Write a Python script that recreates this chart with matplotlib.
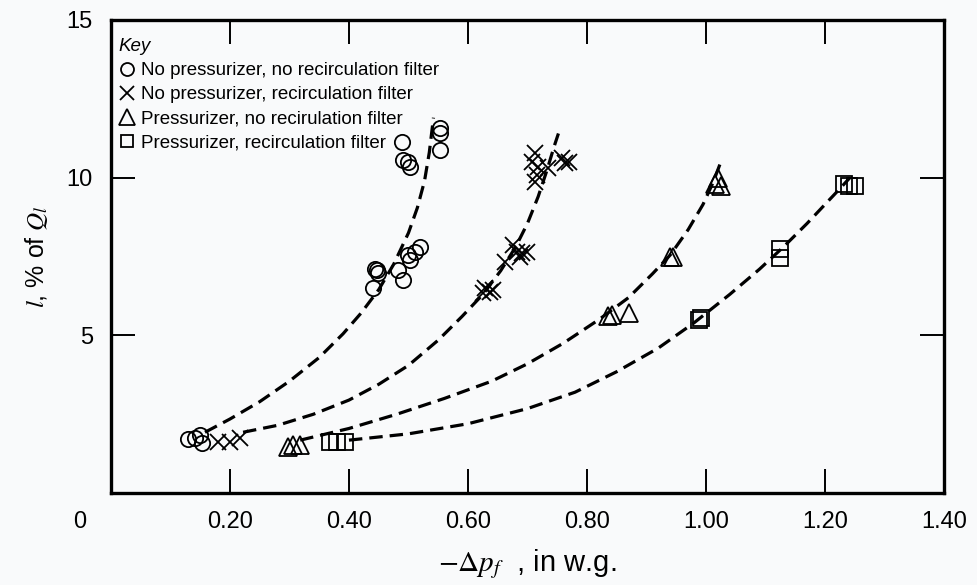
""" leakage vs filter pressure drop, four cabinet configurations """

import matplotlib
matplotlib.use('Agg')
import matplotlib.pyplot as plt

# measured points
circ_x = [0.130, 0.141, 0.150, 0.153, 0.440, 0.444, 0.447, 0.449, 0.482, 0.491,
          0.499, 0.502, 0.511, 0.519, 0.489, 0.491, 0.499, 0.502, 0.553, 0.553, 0.553]
circ_y = [1.71, 1.74, 1.84, 1.59, 6.50, 7.10, 7.07, 6.98, 7.07, 6.75,
          7.55, 7.39, 7.64, 7.80, 11.13, 10.56, 10.50, 10.34, 11.58, 11.42, 10.88]

cross_x = [0.180, 0.200, 0.217, 0.625, 0.629, 0.637, 0.642, 0.662, 0.676, 0.682,
           0.687, 0.690, 0.700, 0.708, 0.713, 0.713, 0.716, 0.718, 0.734, 0.758,
           0.763, 0.770]
cross_y = [1.62, 1.62, 1.74, 6.34, 6.50, 6.38, 6.44, 7.33, 7.87, 7.64,
           7.50, 7.60, 7.64, 10.50, 10.78, 9.87, 10.09, 10.34, 10.30, 10.62,
           10.46, 10.50]

tri_x = [0.297, 0.306, 0.318, 0.835, 0.842, 0.870, 0.940, 0.945, 1.015, 1.020, 1.025]
tri_y = [1.46, 1.52, 1.52, 5.60, 5.65, 5.70, 7.50, 7.50, 9.80, 10.00, 9.75]

sq_x = [0.368, 0.380, 0.393, 0.988, 0.992, 1.125, 1.125, 1.232, 1.240, 1.250]
sq_y = [1.62, 1.62, 1.62, 5.50, 5.55, 7.75, 7.45, 9.80, 9.75, 9.75]

# fitted curves, points
circ_cx = [0.158, 0.20, 0.25, 0.30, 0.35, 0.39, 0.42, 0.45, 0.475, 0.50,
           0.515, 0.527, 0.535, 0.542]
circ_cy = [1.93, 2.35, 2.90, 3.55, 4.30, 5.05, 5.70, 6.45, 7.25, 8.25,
           9.05, 9.90, 10.80, 11.90]

cross_cx = [0.222, 0.28, 0.34, 0.40, 0.45, 0.50, 0.55, 0.59, 0.625, 0.655,
            0.68, 0.70, 0.718, 0.733, 0.745, 0.752]
cross_cy = [1.93, 2.15, 2.50, 2.95, 3.45, 4.05, 4.85, 5.60, 6.30, 7.05,
            7.80, 8.55, 9.40, 10.25, 11.00, 11.40]

tri_cx = [0.318, 0.40, 0.48, 0.56, 0.64, 0.70, 0.76, 0.82, 0.87, 0.91,
          0.94, 0.97, 0.995, 1.012, 1.027]
tri_cy = [1.68, 2.05, 2.50, 3.00, 3.55, 4.10, 4.75, 5.50, 6.20, 6.95,
          7.55, 8.35, 9.15, 9.85, 10.60]

sq_cx = [0.40, 0.50, 0.60, 0.70, 0.78, 0.85, 0.92, 0.98, 1.04, 1.09,
         1.13, 1.17, 1.20, 1.225, 1.242]
sq_cy = [1.68, 1.88, 2.20, 2.68, 3.20, 3.85, 4.60, 5.40, 6.30, 7.10,
         7.80, 8.55, 9.15, 9.65, 10.00]

labels = ['No pressurizer, no recirculation filter',
          'No pressurizer, recirculation filter',
          'Pressurizer, no recirulation filter',
          'Pressurizer, recirculation filter']

x_ticks = [0.20, 0.40, 0.60, 0.80, 1.00, 1.20, 1.40]
y_ticks = [5, 10, 15]

plt.rcParams['font.family'] = ['Liberation Sans', 'DejaVu Sans']
plt.rcParams['mathtext.fontset'] = 'stix'

bg = '#f9fafb'
fig = plt.figure(figsize=(9.77, 5.85), dpi=100, facecolor=bg)
ax = fig.add_axes([0.1136, 0.157, 0.8526, 0.809], facecolor=bg)

dash = dict(color='black', lw=2.3, dashes=(4.2, 2.2), solid_joinstyle='round')
ax.plot(circ_cx, circ_cy, **dash)
ax.plot(cross_cx, cross_cy, **dash)
ax.plot(tri_cx, tri_cy, **dash)
ax.plot(sq_cx, sq_cy, **dash)

mk = dict(ls='none', mfc='none', mec='black', mew=1.3)
h1, = ax.plot(circ_x, circ_y, marker='o', ms=11, label=labels[0], **mk)
h2, = ax.plot(cross_x, cross_y, marker='x', ms=12, label=labels[1], **mk)
h3, = ax.plot(tri_x, tri_y, marker='^', ms=13, label=labels[2], **mk)
h4, = ax.plot(sq_x, sq_y, marker='s', ms=11, label=labels[3], **mk)

ax.set_xlim(0, 1.40)
ax.set_ylim(0, 15)
ax.set_xticks(x_ticks)
ax.set_xticklabels(['%.2f' % v for v in x_ticks])
ax.set_yticks(y_ticks)
ax.tick_params(direction='in', length=17, width=1.4, top=True, right=True,
               labelsize=17, pad=13, colors='black')
for s in ax.spines.values():
    s.set_linewidth(2.4)

ax.text(-0.038, -0.062, '0', transform=ax.transAxes, ha='center', va='center',
        fontsize=17)

ax.set_xlabel(r'$-\mathit{\Delta p_f}$  , in w.g.', fontsize=21, labelpad=10)
ax.set_ylabel(r'$l$, % of $Q_l$', fontsize=18, labelpad=12)

leg = ax.legend(handles=[h1, h2, h3, h4], loc='upper left',
                bbox_to_anchor=(0.005, 0.97), frameon=False,
                fontsize=13.5, markerscale=0.85, handlelength=0.9,
                handletextpad=0.3, labelspacing=0.38, borderpad=0.2,
                borderaxespad=0, title='Key', alignment='left',
                title_fontproperties={'style': 'italic', 'size': 13.5})

fig.savefig('out.png', dpi=100, facecolor=bg)
